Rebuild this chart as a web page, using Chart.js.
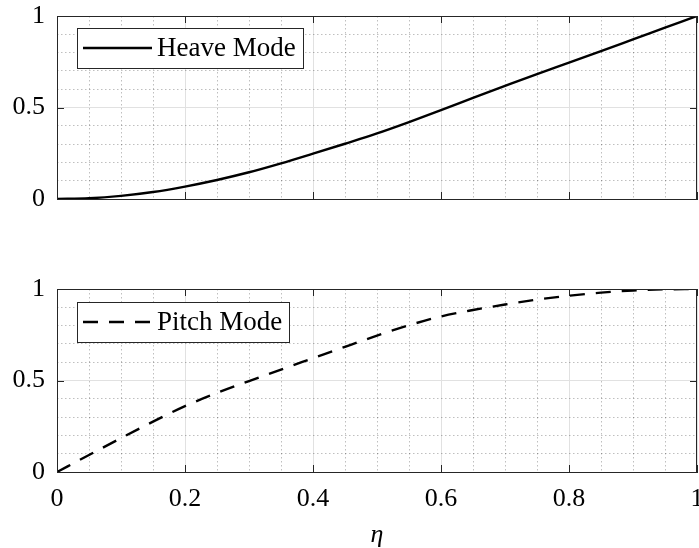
<!DOCTYPE html>
<html>
<head>
<meta charset="utf-8">
<script src="https://cdn.jsdelivr.net/npm/chart.js@4/dist/chart.umd.min.js"></script>
<style>
  html, body { margin: 0; padding: 0; background: #fff; overflow: hidden; }
  body { width: 699px; height: 548px; position: relative; }
  .panel { position: absolute; left: 0; width: 720px; }
  #heaveWrap { top: 0; height: 230px; }
  #pitchWrap { top: 230px; height: 318px; }
</style>
</head>
<body>
<div class="panel" id="heaveWrap"><canvas id="heaveChart" width="720" height="230"></canvas></div>
<div class="panel" id="pitchWrap"><canvas id="pitchChart" width="720" height="318"></canvas></div>
<script>
// values
const eta = [0, 0.05, 0.1, 0.15, 0.2, 0.25, 0.3, 0.35, 0.4, 0.45, 0.5,
             0.55, 0.6, 0.65, 0.7, 0.75, 0.8, 0.85, 0.9, 0.95, 1];
const heave = [0, 0.004, 0.017, 0.038, 0.068, 0.104, 0.146, 0.195, 0.248, 0.302, 0.358,
               0.42, 0.485, 0.552, 0.618, 0.683, 0.745, 0.808, 0.872, 0.936, 1];
const pitch = [0, 0.093, 0.185, 0.275, 0.36, 0.432, 0.497, 0.56, 0.622, 0.684, 0.745,
               0.802, 0.85, 0.885, 0.915, 0.942, 0.963, 0.98, 0.992, 0.998, 1];
const xTicks = [0, 0.2, 0.4, 0.6, 0.8, 1];
const yTicks = [0, 0.5, 1];
const xLabel = "η";

const axisColor = "#262626";
const serif = "'Liberation Serif', 'DejaVu Serif', serif";
const tickFont = { family: serif, size: 26 };

function isMajor(v, step) {
    const k = v / step;
    return Math.abs(k - Math.round(k)) < 1e-6;
}

// box, inward tick marks
const frame = {
    id: "frame",
    afterDatasetsDraw(chart) {
        const { ctx, chartArea: a, scales } = chart;
        ctx.save();
        ctx.strokeStyle = axisColor;
        ctx.lineWidth = 1;
        ctx.beginPath();
        xTicks.forEach(v => {
            const px = Math.round(scales.x.getPixelForValue(v)) + 0.5;
            ctx.moveTo(px, a.bottom); ctx.lineTo(px, a.bottom - 7);
            ctx.moveTo(px, a.top); ctx.lineTo(px, a.top + 7);
        });
        yTicks.forEach(v => {
            const py = Math.round(scales.y.getPixelForValue(v)) + 0.5;
            ctx.moveTo(a.left, py); ctx.lineTo(a.left + 7, py);
            ctx.moveTo(a.right, py); ctx.lineTo(a.right - 7, py);
        });
        ctx.stroke();
        ctx.strokeRect(Math.round(a.left) + 0.5, Math.round(a.top) + 0.5,
                       Math.round(a.right - a.left) - 1, Math.round(a.bottom - a.top));
        ctx.restore();
    }
};

// legend drawn inside the axes with a box, like the original
const boxLegend = {
    id: "boxLegend",
    afterDraw(chart, args, opts) {
        const { ctx, chartArea } = chart;
        const ds = chart.data.datasets[0];
        ctx.save();
        ctx.font = opts.font;
        const textW = ctx.measureText(ds.label).width;
        const x = Math.round(chartArea.left + opts.offsetX);
        const y = Math.round(chartArea.top + opts.offsetY);
        const w = Math.round(6 + opts.lineLength + 5 + textW + 7);
        const h = 40;
        ctx.fillStyle = "#fff";
        ctx.fillRect(x, y, w, h);
        ctx.strokeStyle = axisColor;
        ctx.lineWidth = 1;
        ctx.strokeRect(x + 0.5, y + 0.5, w, h);
        ctx.beginPath();
        ctx.setLineDash(ds.borderDash || []);
        ctx.lineWidth = ds.borderWidth;
        ctx.strokeStyle = ds.borderColor;
        ctx.moveTo(x + 6, y + h / 2);
        ctx.lineTo(x + 6 + opts.lineLength, y + h / 2);
        ctx.stroke();
        ctx.setLineDash([]);
        ctx.fillStyle = "#000";
        ctx.textAlign = "left";
        ctx.textBaseline = "middle";
        ctx.fillText(ds.label, x + 6 + opts.lineLength + 5, y + h / 2 + 1);
        ctx.restore();
    }
};

function makeChart(id, label, values, dash, bottomAxis, padTop, xHeight, legendY) {
    const ctx = document.getElementById(id).getContext("2d");
    return new Chart(ctx, {
        type: "line",
        data: {
            datasets: [{
                label: label,
                data: eta.map((x, i) => ({ x: x, y: values[i] })),
                borderColor: "#000",
                borderWidth: 2.4,
                borderDash: dash,
                pointRadius: 0,
                fill: false,
                cubicInterpolationMode: "monotone"
            }]
        },
        options: {
            responsive: false,
            animation: false,
            layout: { padding: { top: padTop, right: 23, left: 0, bottom: 0 } },
            plugins: {
                legend: { display: false },
                tooltip: { enabled: false },
                boxLegend: { font: "27px " + serif, offsetX: 20, offsetY: legendY, lineLength: 69 }
            },
            scales: {
                x: {
                    type: "linear", min: 0, max: 1,
                    afterBuildTicks: s => { s.ticks = xTicks.map(v => ({ value: v })); },
                    afterFit: s => { s.height = xHeight; s.paddingLeft = 0; s.paddingRight = 0; },
                    grid: { color: "#e1e1e1", lineWidth: 1, drawTicks: false },
                    border: { display: true, color: axisColor, width: 1 },
                    ticks: {
                        display: bottomAxis, padding: 12, color: "#000", font: tickFont,
                        maxRotation: 0, autoSkip: false, callback: v => String(v)
                    },
                    title: {
                        display: bottomAxis, text: xLabel, color: "#000", padding: 0,
                        font: { family: serif, size: 26, style: "italic", lineHeight: 1 }
                    }
                },
                xMinor: {
                    type: "linear", min: 0, max: 1, position: "bottom",
                    afterFit: s => { s.height = 0; s.paddingLeft = 0; s.paddingRight = 0; },
                    ticks: { display: false, stepSize: 0.05 },
                    grid: {
                        drawTicks: false, lineWidth: 1,
                        color: c => isMajor(c.tick.value, 0.2) ? "rgba(0,0,0,0)" : "rgba(0,0,0,0.25)"
                    },
                    border: { display: false, dash: [1.5, 2.5] }
                },
                y: {
                    type: "linear", min: 0, max: 1,
                    afterBuildTicks: s => { s.ticks = yTicks.map(v => ({ value: v })); },
                    afterFit: s => { s.width = 57; s.paddingTop = 0; s.paddingBottom = 0; },
                    grid: { color: "#e1e1e1", lineWidth: 1, drawTicks: false },
                    border: { display: true, color: axisColor, width: 1 },
                    ticks: { padding: 12, color: "#000", font: tickFont, callback: v => String(v) }
                },
                yMinor: {
                    type: "linear", min: 0, max: 1, position: "left",
                    afterFit: s => { s.width = 0; s.paddingTop = 0; s.paddingBottom = 0; },
                    ticks: { display: false, stepSize: 0.1 },
                    grid: {
                        drawTicks: false, lineWidth: 1,
                        color: c => isMajor(c.tick.value, 0.5) ? "rgba(0,0,0,0)" : "rgba(0,0,0,0.25)"
                    },
                    border: { display: false, dash: [1.5, 2.5] }
                }
            }
        },
        plugins: [frame, boxLegend]
    });
}

makeChart("heaveChart", "Heave Mode", heave, [], false, 16, 31, 12);
makeChart("pitchChart", "Pitch Mode", pitch, [15, 11], true, 59, 76, 13);
</script>
</body>
</html>
